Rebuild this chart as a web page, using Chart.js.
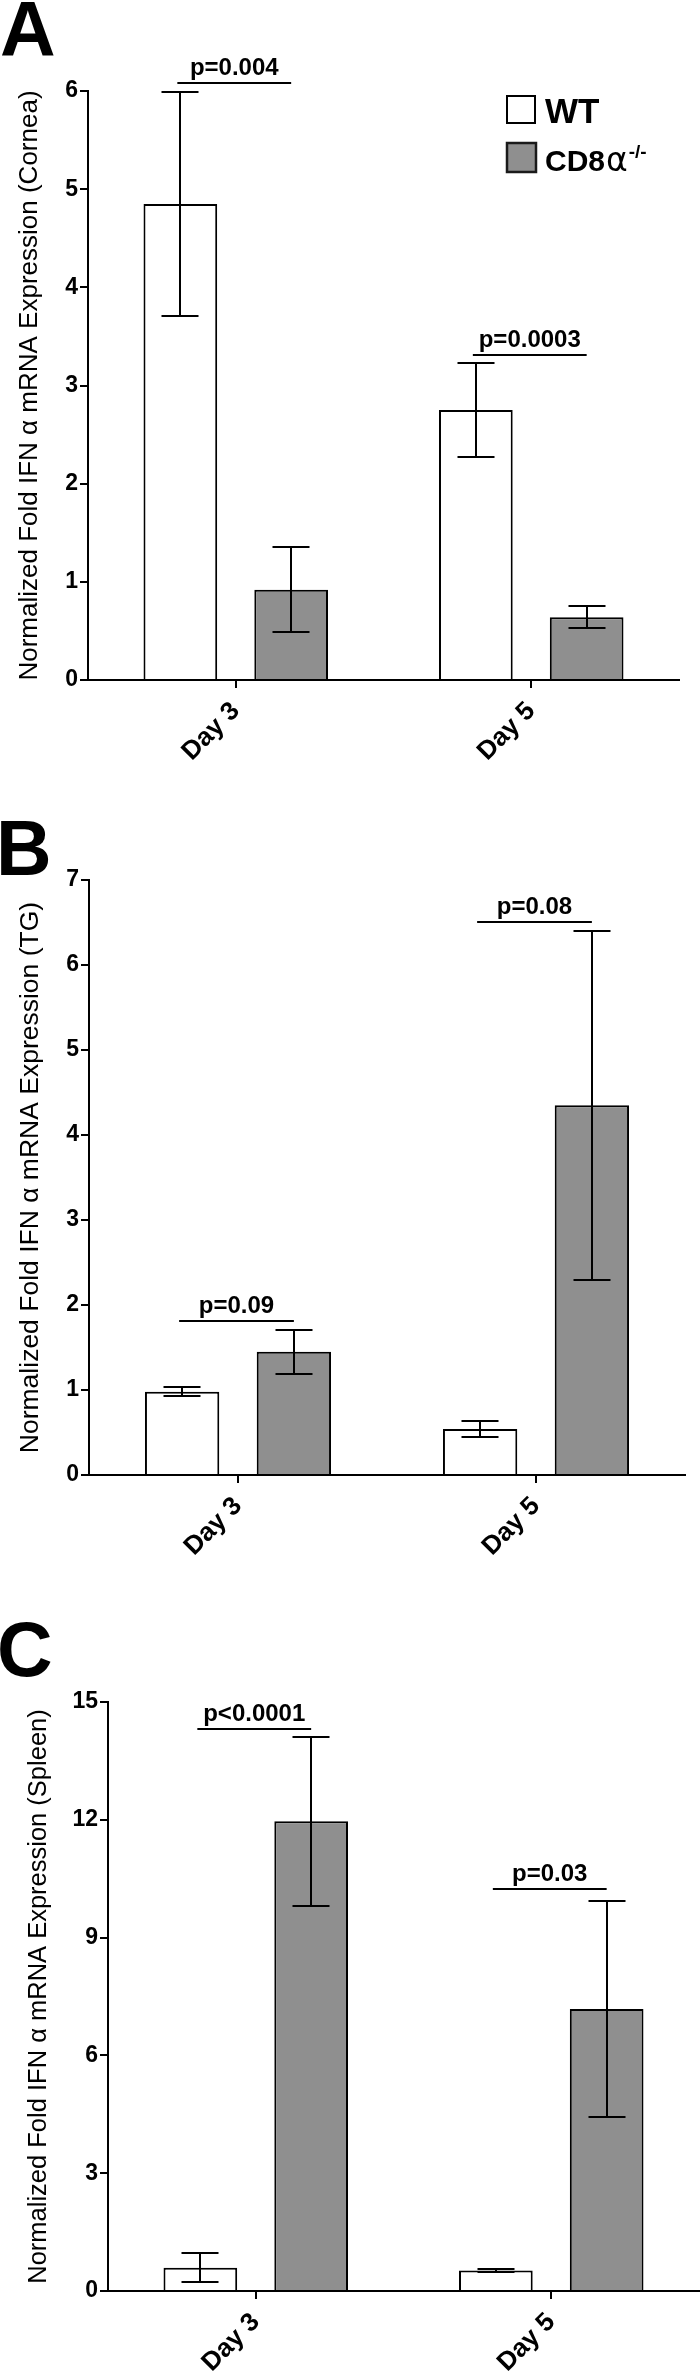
<!DOCTYPE html>
<html>
<head>
<meta charset="utf-8">
<script src="https://cdn.jsdelivr.net/npm/chart.js@4.4.1/dist/chart.umd.min.js"></script>
<style>
  html, body { margin: 0; padding: 0; background: #ffffff; }
  body { width: 700px; height: 2380px; position: relative; overflow: hidden; }
  .panel { position: absolute; left: 0; width: 700px; }
  canvas { display: block; }
</style>
</head>
<body>
<div class="panel" style="top:0px;height:800px"><canvas id="chartA" width="700" height="800" style="width:700px;height:800px"></canvas></div>
<div class="panel" style="top:800px;height:780px"><canvas id="chartB" width="700" height="780" style="width:700px;height:780px"></canvas></div>
<div class="panel" style="top:1580px;height:800px"><canvas id="chartC" width="700" height="800" style="width:700px;height:800px"></canvas></div>
<script>
// ---------------- DATA ----------------
const categories = ['Day 3', 'Day 5'];
const legendLabels = ['WT', 'CD8α'];
const legendSuperscripts = ['', '-/-'];

// Panel A – Cornea
const corneaWT = [4.85, 2.75];
const corneaWTErr = [1.14, 0.48];
const corneaCD8 = [0.92, 0.64];
const corneaCD8Err = [0.43, 0.11];
const corneaYTicks = [0, 1, 2, 3, 4, 5, 6];
const corneaPText = ['p=0.004', 'p=0.0003'];
const corneaPLine = [6.08, 3.31];
const corneaTitle = 'Normalized Fold IFN α mRNA Expression (Cornea)';

// Panel B – TG
const tgWT = [0.98, 0.54];
const tgWTErr = [0.05, 0.095];
const tgCD8 = [1.45, 4.35];
const tgCD8Err = [0.26, 2.05];
const tgYTicks = [0, 1, 2, 3, 4, 5, 6, 7];
const tgPText = ['p=0.09', 'p=0.08'];
const tgPLine = [1.81, 6.50];
const tgTitle = 'Normalized Fold IFN α mRNA Expression (TG)';

// Panel C – Spleen
const spleenWT = [0.59, 0.52];
const spleenWTErr = [0.37, 0.03];
const spleenCD8 = [11.96, 7.18];
const spleenCD8Err = [2.16, 2.74];
const spleenYTicks = [0, 3, 6, 9, 12, 15];
const spleenPText = ['p<0.0001', 'p=0.03'];
const spleenPLine = [14.31, 10.24];
const spleenTitle = 'Normalized Fold IFN α mRNA Expression (Spleen)';

// ---------------- STYLE ----------------
const FONT = '"Liberation Sans", Arial, Helvetica, sans-serif';
const GRAY = '#8f8f8f';
const CAP = 37;

function extrasPlugin(p) {
  return {
    id: 'extras' + p.letter,
    afterDatasetsDraw(chart) {
      const ctx = chart.ctx;
      const y = chart.scales.y;
      ctx.save();
      ctx.strokeStyle = '#000';
      ctx.lineWidth = 2;
      ctx.lineCap = 'butt';
      [p.wtErr, p.cdErr].forEach((errs, di) => {
        const meta = chart.getDatasetMeta(di);
        const vals = chart.data.datasets[di].data;
        meta.data.forEach((bar, j) => {
          const hi = Math.round(y.getPixelForValue(vals[j] + errs[j]));
          const lo = Math.round(y.getPixelForValue(vals[j] - errs[j]));
          const x = Math.round(bar.x);
          ctx.beginPath();
          ctx.moveTo(x, hi); ctx.lineTo(x, lo);
          ctx.moveTo(x - CAP / 2, hi); ctx.lineTo(x + CAP / 2, hi);
          ctx.moveTo(x - CAP / 2, lo); ctx.lineTo(x + CAP / 2, lo);
          ctx.stroke();
        });
      });
      const m0 = chart.getDatasetMeta(0), m1 = chart.getDatasetMeta(1);
      ctx.fillStyle = '#000';
      ctx.font = 'bold 24px ' + FONT;
      ctx.textAlign = 'center';
      ctx.textBaseline = 'alphabetic';
      p.pLine.forEach((v, j) => {
        const yy = Math.round(y.getPixelForValue(v));
        const x0 = m0.data[j].x - 3, x1 = m1.data[j].x;
        ctx.beginPath();
        ctx.moveTo(x0, yy); ctx.lineTo(x1, yy);
        ctx.stroke();
        ctx.fillText(p.pText[j], (x0 + x1) / 2, yy - 8);
      });
      ctx.restore();
    },
    afterDraw(chart) {
      const ctx = chart.ctx;
      ctx.save();
      ctx.fillStyle = '#000';
      ctx.textAlign = 'left';
      ctx.textBaseline = 'alphabetic';
      ctx.font = 'bold 77px ' + FONT;
      ctx.fillText(p.letter, p.letterX, p.letterY);
      if (p.legend) {
        // WT box
        ctx.lineWidth = 2;
        ctx.strokeStyle = '#000';
        ctx.fillStyle = '#fff';
        ctx.fillRect(507, 96, 28, 27);
        ctx.strokeRect(507, 96, 28, 27);
        // CD8 box
        ctx.fillStyle = GRAY;
        ctx.fillRect(507, 143, 29, 29);
        ctx.lineWidth = 2.5;
        ctx.strokeStyle = '#1a1a1a';
        ctx.strokeRect(507, 143, 29, 29);
        ctx.fillStyle = '#000';
        ctx.font = 'bold 35px ' + FONT;
        ctx.fillText(legendLabels[0], 545, 123);
        const main = legendLabels[1].slice(0, -1);
        const greek = legendLabels[1].slice(-1);
        ctx.font = 'bold 30px ' + FONT;
        ctx.fillText(main, 545, 171);
        let xx = 545 + ctx.measureText(main).width + 1;
        ctx.font = 'normal 33px "DejaVu Sans", ' + FONT;
        ctx.fillText(greek, xx, 171);
        xx += ctx.measureText(greek).width + 1;
        ctx.font = 'bold 19px ' + FONT;
        ctx.fillText(legendSuperscripts[1], xx, 158);
      }
      ctx.restore();
    }
  };
}

function makeChart(id, p) {
  const canvas = document.getElementById(id);
  const H = canvas.height;
  return new Chart(canvas, {
    type: 'bar',
    data: {
      labels: categories,
      datasets: [
        { label: legendLabels[0], data: p.wt, backgroundColor: '#ffffff', borderColor: '#000', borderWidth: 2,
          borderSkipped: 'start', barPercentage: 0.665, categoryPercentage: 0.75 },
        { label: legendLabels[1] + legendSuperscripts[1], data: p.cd, backgroundColor: GRAY, borderColor: '#000', borderWidth: 2,
          borderSkipped: 'start', barPercentage: 0.665, categoryPercentage: 0.75 }
      ]
    },
    options: {
      responsive: false,
      animation: false,
      devicePixelRatio: 1,
      layout: { padding: { left: 0, top: p.top, right: p.right, bottom: 0 } },
      plugins: { legend: { display: false }, tooltip: { enabled: false }, title: { display: false } },
      scales: {
        x: {
          type: 'category',
          offset: true,
          grid: { display: true, drawOnChartArea: false, drawTicks: true, tickLength: 8, color: '#000', lineWidth: 2, offset: false },
          border: { display: true, color: '#000', width: 2 },
          ticks: { color: '#000', font: { family: FONT, size: 26, weight: 'bold' }, minRotation: 45, maxRotation: 45, padding: 8, autoSkip: false },
          afterFit: s => { s.height = H - p.bottom; }
        },
        y: {
          min: 0,
          max: p.yTicks[p.yTicks.length - 1],
          afterBuildTicks: s => { s.ticks = p.yTicks.map(v => ({ value: v })); },
          grid: { display: true, drawOnChartArea: false, drawTicks: true, tickLength: 8, color: '#000', lineWidth: 2 },
          border: { display: true, color: '#000', width: 2 },
          ticks: { color: '#000', font: { family: FONT, size: 23, weight: 'bold' }, padding: 2 },
          title: { display: true, text: p.title, color: '#000', font: { family: FONT, size: p.titleSize, weight: 'normal', lineHeight: 1 },
                   padding: { top: p.titlePad, bottom: 0 } },
          afterFit: s => { s.width = p.left; }
        }
      }
    },
    plugins: [extrasPlugin(p)]
  });
}

makeChart('chartA', {
  wt: corneaWT, cd: corneaCD8, wtErr: corneaWTErr, cdErr: corneaCD8Err,
  yTicks: corneaYTicks, pText: corneaPText, pLine: corneaPLine, title: corneaTitle,
  top: 91, bottom: 680, left: 88, right: 21, titlePad: 17, titleSize: 26,
  letter: 'A', letterX: 0, letterY: 56, legend: true
});
makeChart('chartB', {
  wt: tgWT, cd: tgCD8, wtErr: tgWTErr, cdErr: tgCD8Err,
  yTicks: tgYTicks, pText: tgPText, pLine: tgPLine, title: tgTitle,
  top: 80, bottom: 675, left: 89, right: 15, titlePad: 17, titleSize: 26.5,
  letter: 'B', letterX: -4, letterY: 75, legend: false
});
makeChart('chartC', {
  wt: spleenWT, cd: spleenCD8, wtErr: spleenWTErr, cdErr: spleenCD8Err,
  yTicks: spleenYTicks, pText: spleenPText, pLine: spleenPLine, title: spleenTitle,
  top: 122, bottom: 711, left: 108, right: 1, titlePad: 26, titleSize: 25.5,
  letter: 'C', letterX: -3, letterY: 96, legend: false
});
</script>
</body>
</html>
